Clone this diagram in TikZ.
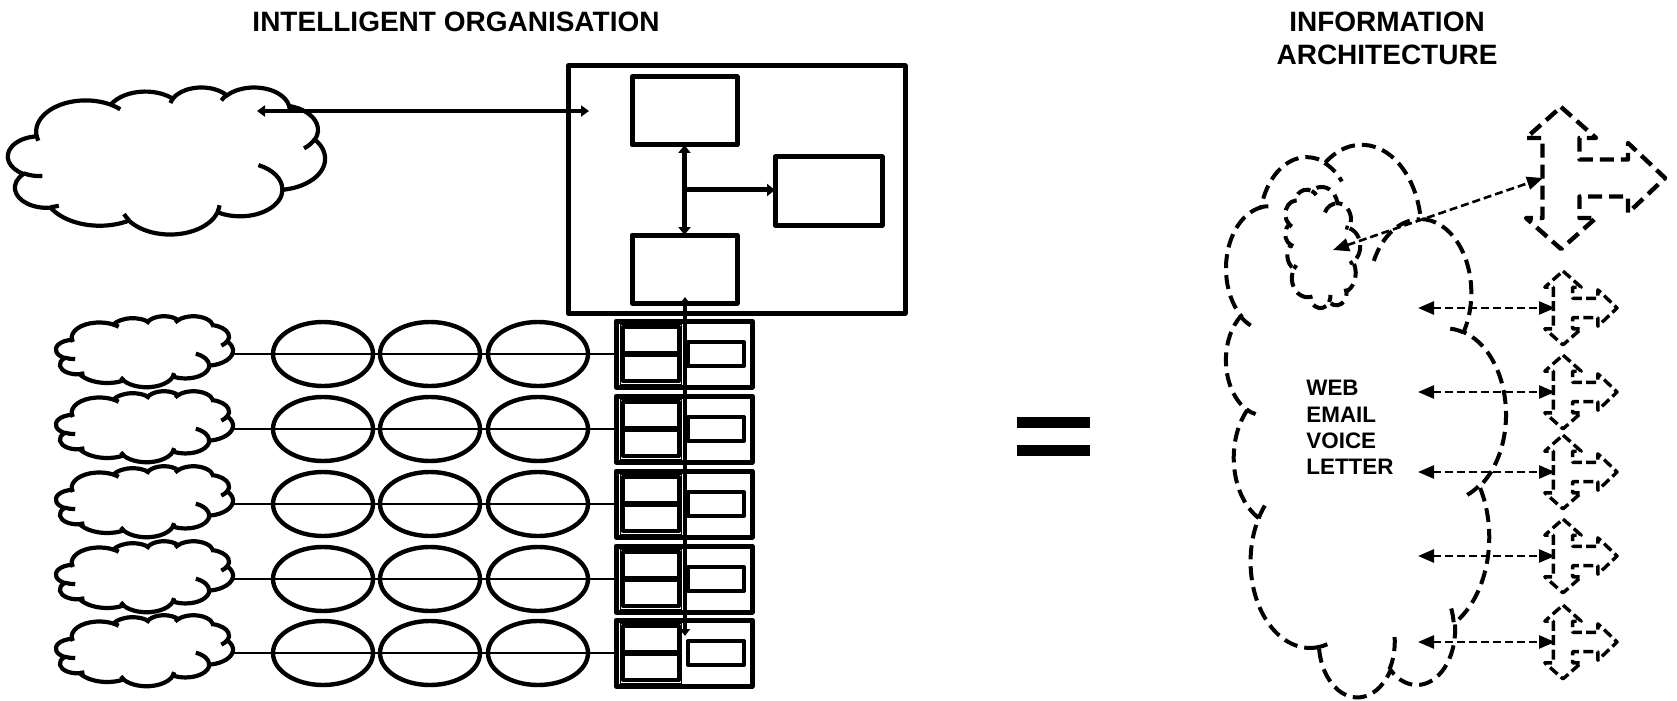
\documentclass[tikz,border=0pt]{standalone}
\usepackage{fontspec}
\setmainfont{Liberation Sans}
\usetikzlibrary{arrows.meta,shapes.geometric,calc}

% convert an OOXML arcTo (visual angles) into a TikZ elliptic arc style
\newcommand\ooprep[5]{%
  \pgfmathsetmacro\ooTs{atan2((#2)*sin(#4),(#3)*cos(#4))}%
  \pgfmathsetmacro\ooTe{atan2((#2)*sin((#4)+(#5)),(#3)*cos((#4)+(#5)))}%
  \pgfmathsetmacro\ooD{\ooTe-(\ooTs)}%
  \pgfmathsetmacro\ooD{\ooD+360*(\ooD<0)}%
  \edef\ooTmp{\noexpand\tikzset{#1/.style={x radius=#2pt,y radius=#3pt,start angle=\ooTs,delta angle=\ooD}}}%
  \ooTmp}
\ooprep{ooA}{67.53}{91.90}{-190.48748}{123.78053}
\ooprep{ooB}{53.33}{72.67}{-144.10238}{89.94523}
\ooprep{ooC}{43.65}{59.45}{-145.80792}{99.72302}
\ooprep{ooD}{48.57}{65.95}{-130.98607}{117.24173}
\ooprep{ooE}{53.33}{72.73}{-78.70888}{109.02692}
\ooprep{ooF}{67.75}{92.20}{-46.26725}{130.269}
\ooprep{ooG}{57.85}{78.67}{0.62502}{114.03333}
\ooprep{ooH}{67.52}{92.15}{22.4516}{115.17255}
\ooprep{ooI}{77.20}{105.43}{66.24263}{75.71102}
\ooprep{ooJ}{43.60}{59.18}{-274.94208}{146.73557}
\ooprep{ooK}{43.45}{59.45}{-246.8285}{152.51885}
\ooprep{hkA}{43.45}{59.45}{86.742}{26.4295}
\ooprep{hkB}{43.60}{59.18}{73.61047}{11.44747}
\ooprep{hkC}{67.52}{92.15}{137.62415}{14.0811}
\ooprep{hkD}{67.52}{92.15}{6.45327}{15.99835}
\ooprep{hkE}{57.85}{78.67}{-70.29235}{70.91737}
\ooprep{hkF}{53.33}{72.73}{30.31803}{27.7515}
\ooprep{hkG}{48.57}{65.95}{-13.74433}{14.8589}
\ooprep{hkH}{48.57}{65.95}{-149.18145}{18.19537}
\ooprep{hkI}{43.65}{59.45}{-163.49427}{17.68635}
\ooprep{hkJ}{67.53}{91.90}{-66.70695}{12.31935}
\ooprep{hkK}{67.53}{91.90}{157.65435}{11.85817}

% the cloud outline and its inner hooks, in a 432pt path space
\newcommand\oocloudpath[1]{%
    \draw[#1] (39pt,143.7pt) arc[ooA] arc[ooB] arc[ooC] arc[ooD] arc[ooE]
      arc[ooF] arc[ooG] arc[ooH] arc[ooI] arc[ooJ] arc[ooK] -- cycle;
    \draw[#1] (46.93pt,261.77pt) arc[hkA] (69.28pt,348.99pt) arc[hkB]
      (164.78pt,390.90pt) arc[hkC] (288.27pt,347.51pt) arc[hkD]
      (341.29pt,229.54pt) arc[hkE] (417.98pt,153.54pt) arc[hkF]
      (383.24pt,54.26pt) arc[hkG] (290.78pt,39.52pt) arc[hkH]
      (221.41pt,47.20pt) arc[hkI] (140.00pt,51.92pt) arc[hkJ]
      (41.27pt,157.89pt) arc[hkK];}
% cloud in a box: x0 y0 W H (px) style
\newcommand\oocloud[5]{%
  \begin{scope}[shift={(#1,#2)},xscale=#3/864,yscale=-#4/864]
    \oocloudpath{#5}
  \end{scope}}
% the same cloud turned a quarter turn anticlockwise: x0 y0 W H style
\newcommand\oocloudrot[5]{%
  \begin{scope}[shift={(#1,#2+#4)},cm={0,#4/864,#3/864,0,(0,0)}]
    \oocloudpath{#5}
  \end{scope}}

% up-down-right arrow shape: cx cy scale style
\newcommand\udrarrow[4]{%
  \begin{scope}[shift={(#1,#2)},scale=#3]
    \draw[#4] (0,-71) -- (35,-40) -- (18.5,-40) -- (18.5,-18.5) -- (67,-18.5)
      -- (67,-35) -- (104,0) -- (67,35) -- (67,18.5) -- (18.5,18.5)
      -- (18.5,40) -- (35,40) -- (0,71) -- (-35,40) -- (-18.5,40)
      -- (-18.5,-40) -- (-35,-40) -- cycle;
  \end{scope}}

\tikzset{
  box/.style={draw,line width=2.5pt,line join=round,inner sep=0pt,outer sep=0pt},
  rowbox/.style={box,minimum width=68pt,minimum height=33pt},
  grp/.style={draw,line width=0.5pt,inner sep=0pt,minimum width=30.5pt,minimum height=30pt},
  sbox/.style={draw,line width=2pt,line join=round,inner sep=0pt,minimum width=28pt,minimum height=13pt},
  rbox/.style={draw,line width=2pt,line join=round,inner sep=0pt,minimum width=28pt,minimum height=12pt},
  ell/.style={draw,ellipse,line width=2.2pt,inner sep=0pt,minimum width=50pt,minimum height=32pt},
  solidcloud/.style={line width=2.1pt},
  dashcloud/.style={line width=2pt,dash pattern=on 7pt off 3.5pt},
  bigshape/.style={line width=2.2pt,dash pattern=on 7pt off 3.5pt,line join=round},
  smallshape/.style={line width=1.7pt,dash pattern=on 5pt off 2.2pt,line join=round},
  dasharrow/.style={line width=1.3pt,dash pattern=on 4pt off 2pt,
    {Triangle[length=8pt,width=6.5pt]}-{Triangle[length=8pt,width=6.5pt]}},
  title/.style={font=\fontsize{14pt}{16pt}\selectfont\bfseries,inner sep=0pt,anchor=base},
  lbl/.style={font=\fontsize{11.2pt}{13pt}\selectfont\bfseries,inner sep=0pt,anchor=base west},
}

\begin{document}
\begin{tikzpicture}[x=0.5pt,y=-0.5pt]
\useasboundingbox (0,0) rectangle (1677,701);

% titles
\node[title] (ttl1) at (456,32) {INTELLIGENT ORGANISATION};
\node[title] (ttl2) at (1387,32) {INFORMATION};
\node[title] (ttl3) at (1387,65) {ARCHITECTURE};

% big cloud
\oocloud{8}{87}{317}{147}{solidcloud}

% organisation box
\node[box,minimum width=168.5pt,minimum height=123.5pt] (big) at (736.5,189.5) {};
\node[box,minimum width=52.5pt,minimum height=34pt] (bt) at (684.5,111) {};
\node[box,minimum width=53.5pt,minimum height=34pt] (br) at (828.5,191) {};
\node[box,minimum width=52.5pt,minimum height=34pt] (bb) at (684.5,269) {};

\coordinate (ca) at (257,111);
\coordinate (cb) at (589,111);
\draw[line width=2.2pt,{Triangle[length=4pt,width=5.5pt]}-{Triangle[length=4pt,width=5.5pt]}] (ca) -- (cb);

\draw[line width=2.5pt,{Triangle[length=4pt,width=6pt]}-{Triangle[length=4pt,width=6pt]}] (bt.south) -- (bb.north);
\coordinate (mid) at ($(bt.south)!0.5!(bb.north)$);
\draw[line width=2.5pt,-{Triangle[length=4pt,width=6pt]}] (mid) -- (mid -| br.west);

% rows
\foreach \i/\y in {1/354,2/429,3/504,4/579,5/653}{
  \oocloud{56}{\y-38}{177}{71}{solidcloud}
  \coordinate (ce\i) at (233,\y);
  \node[rowbox] (s\i) at (684,\y) {};
  \draw[line width=0.8pt] (ce\i) -- (s\i.west);
  \node[ell] (ea\i) at (323,\y) {};
  \node[ell] (eb\i) at (430,\y) {};
  \node[ell] (ec\i) at (538,\y) {};
  \node[grp] (g\i) at (650.5,\y) {};
  \node[sbox] (u\i) at (651,\y-14.5) {};
  \node[sbox] (d\i) at (651,\y+14) {};
  \node[rbox] (r\i) at (716,\y) {};
}

\coordinate (la) at (685,297);
\coordinate (lb) at (685,636);
\draw[line width=2pt,{Triangle[length=3.5pt,width=5pt]}-{Triangle[length=3.5pt,width=5pt]}] (la) -- (lb);

% equals
\fill (1017,417) rectangle (1090,428);
\fill (1017,445) rectangle (1090,456);

% information architecture
\oocloudrot{1225}{145}{280}{552}{dashcloud}
\oocloudrot{1285}{187}{75}{121}{dashcloud}

\udrarrow{1561}{178}{1}{bigshape}
\coordinate (ta) at (1333,250);
\coordinate (tb) at (1543,178);
\draw[dasharrow] (ta) -- (tb);

\foreach \j/\y in {1/308,2/392,3/472,4/556,5/642}{
  \udrarrow{1563}{\y}{0.52}{smallshape}
  \coordinate (al\j) at (1418,\y);
  \coordinate (ar\j) at (1555,\y);
  \draw[dasharrow] (al\j) -- (ar\j);
}

\node[lbl] (w1) at (1306,395) {WEB};
\node[lbl] (w2) at (1306,422) {EMAIL};
\node[lbl] (w3) at (1306,448) {VOICE};
\node[lbl] (w4) at (1306,474) {LETTER};
\end{tikzpicture}
\end{document}
